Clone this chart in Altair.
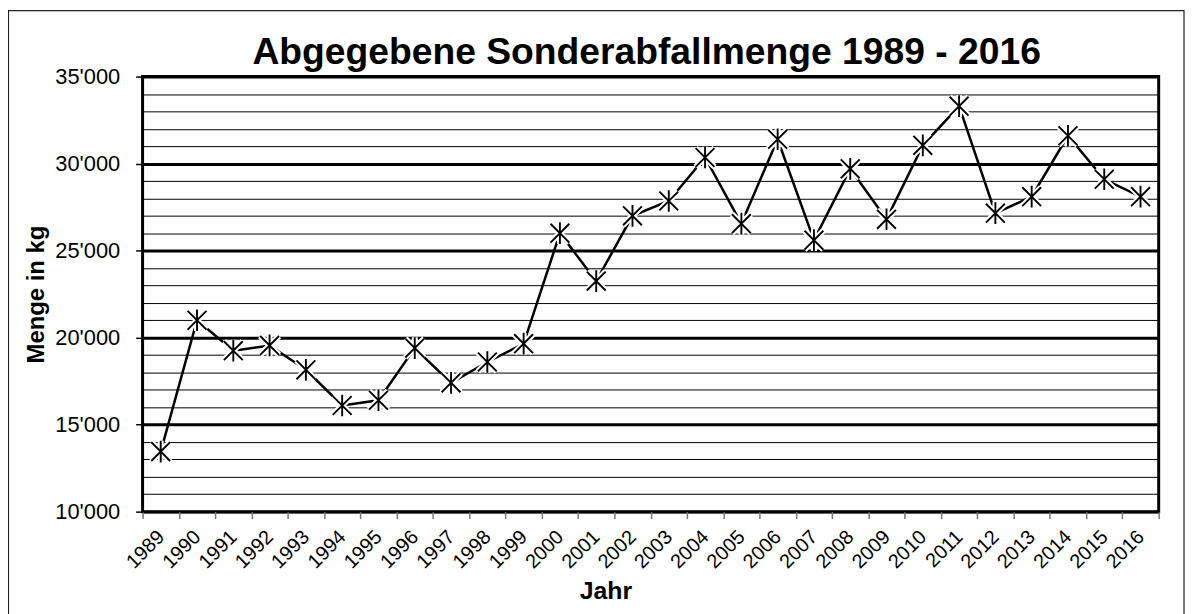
import altair as alt
import pandas as pd

years = [str(y) for y in range(1989, 2017)]
values = [13450, 21000, 19250, 19550, 18150, 16100, 16400, 19400, 17400, 18600,
          19650, 26000, 23250, 27000, 27850, 30350, 26550, 31400, 25600, 29700,
          26800, 31050, 33300, 27150, 28100, 31600, 29100, 28100]
y_ticks = list(range(10000, 35001, 1000))
title_text = "Abgegebene Sonderabfallmenge 1989 - 2016"

df = pd.DataFrame({"Jahr": years, "Menge": values})

FONT = "Liberation Sans"
W, H = 1023, 438
STAR = "M-1,-1L1,1M-1,1L1,-1M0,-1.15L0,1.15"

major = "datum.value % 5000 === 0"

x_enc = alt.X(
    "Jahr:O",
    sort=years,
    scale=alt.Scale(type="band", paddingInner=0, paddingOuter=0),
    axis=alt.Axis(
        title="Jahr", titleFont=FONT, titleFontSize=25, titleFontWeight="bold",
        titleX=466, titleY=87, titleAlign="center", titleBaseline="alphabetic",
        labelAngle=-45, labelAlign="right", labelBaseline="middle",
        labelFont=FONT, labelFontSize=20, labelColor="#000", labelPadding=15,
        labelOverlap=False,
        tickBand="extent", tickSize=7, tickColor="#777", tickWidth=1.5,
        domain=False, grid=False,
    ),
)

y_enc = alt.Y(
    "Menge:Q",
    scale=alt.Scale(domain=[10000, 35000], nice=False, zero=False),
    axis=alt.Axis(
        title="Menge in kg", titleFont=FONT, titleFontSize=24, titleFontWeight="bold",
        titleX=-100, titleY=H / 2, titleAngle=-90, titleAlign="center",
        titleBaseline="alphabetic",
        values=y_ticks,
        labelExpr="datum.value % 5000 === 0 ? floor(datum.value / 1000) + \"'000\" : ''",
        labelFont=FONT, labelFontSize=22, labelColor="#000", labelPadding=16,
        labelOverlap=False,
        grid=True, gridColor="#000",
        gridWidth={"condition": {"test": major, "value": 3}, "value": 1},
        tickOpacity={"condition": {"test": major, "value": 1}, "value": 0},
        tickSize=7, tickColor="#000", tickWidth=1.5,
        domain=False,
    ),
)

base = alt.Chart(df).encode(x=x_enc, y=y_enc)

line = base.mark_line(color="#000", strokeWidth=2.5)
halo = base.mark_point(shape=STAR, size=360, filled=False, stroke="#fff",
                       strokeWidth=6, opacity=1)
marks = base.mark_point(shape=STAR, size=360, filled=False, stroke="#000",
                        strokeWidth=1.9, opacity=1)

one = pd.DataFrame({"t": [title_text]})

frame = alt.Chart(one).mark_rect(
    fill=None, stroke="#222", strokeWidth=1.2
).encode(
    x=alt.value(-135), x2=alt.value(1048.5),
    y=alt.value(-66.5), y2=alt.value(560),
)

title = alt.Chart(one).mark_text(
    font=FONT, fontSize=37.5, fontWeight="bold", color="#000",
    align="center", baseline="alphabetic",
).encode(
    text="t:N", x=alt.value(507.5), y=alt.value(-13),
)

chart = alt.layer(line, halo, marks, frame, title).properties(
    width=W,
    height=H,
    autosize=alt.AutoSizeParams(type="none"),
    padding={"left": 135.5, "top": 67, "right": 27.5, "bottom": 101},
    background="#fff",
).configure_view(
    stroke="#000", strokeWidth=3
)

chart.save("out.html", embed_options={"renderer": "svg", "actions": False})
